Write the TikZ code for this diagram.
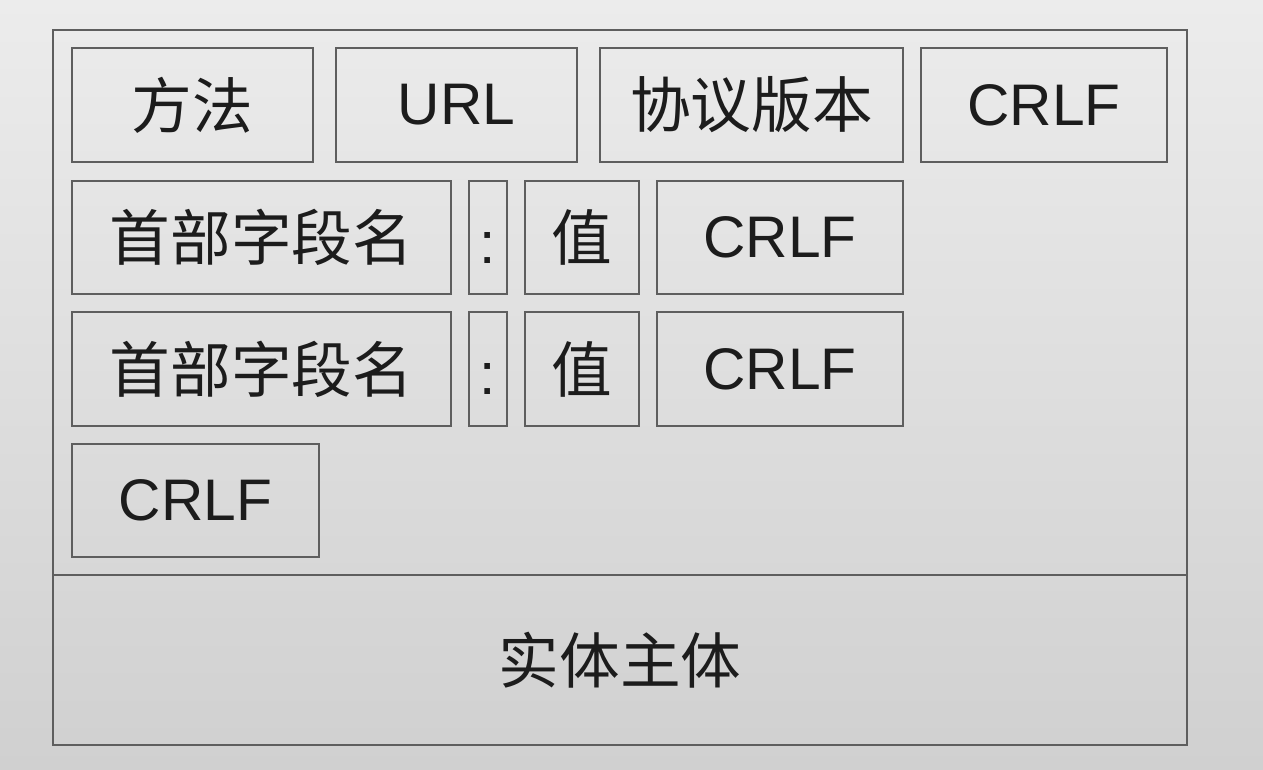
\documentclass[tikz,border=0pt]{standalone}
\usepackage{fontspec}
\setmainfont{Liberation Sans}
\newfontfamily\cjk{Noto Sans CJK SC}
\usetikzlibrary{fit}
\definecolor{linegray}{HTML}{5E5E5E}
\definecolor{bgtop}{HTML}{ECECEC}
\definecolor{bgbot}{HTML}{D0D0D0}
\definecolor{txt}{HTML}{1C1C1C}
\begin{document}
\begin{tikzpicture}[x=0.75pt,y=-0.75pt,
  cell/.style={draw=linegray, line width=2.1pt, inner sep=0pt, outer sep=0pt},
  lbl/.style={text=txt, font=\fontsize{44}{48}\selectfont, inner sep=0pt},
  cjklbl/.style={text=txt, font=\fontsize{45.5}{48}\selectfont\cjk, inner sep=0pt}]
\shade[top color=bgtop, bottom color=bgbot, use as bounding box] (0,0) rectangle (1263,769);
% outer message frame
\node[cell, fit={(53,30)(1187,575)}] (head) {};
\node[cell, fit={(53,575)(1187,745)}] (body) {};
\node[cjklbl] at (body.center) {实体主体};
% request line
\node[cell, fit={(72,48)(313,162)}] (method) {};
\node[cjklbl] at (method.center) {方法};
\node[cell, fit={(336,48)(577,162)}] (url) {};
\node[lbl] at (url.center) {URL};
\node[cell, fit={(600,48)(903,162)}] (ver) {};
\node[cjklbl] at (ver.center) {协议版本};
\node[cell, fit={(921,48)(1167,162)}] (crlf1) {};
\node[lbl] at (crlf1.center) {CRLF};
% header line 1
\node[cell, fit={(72,181)(451,294)}] (name1) {};
\node[cjklbl] at (name1.center) {首部字段名};
\node[cell, fit={(469,181)(507,294)}] (colon1) {};
\node[lbl, yshift=-7.5pt] at (colon1.center) {:};
\node[cell, fit={(525,181)(639,294)}] (val1) {};
\node[cjklbl] at (val1.center) {值};
\node[cell, fit={(657,181)(903,294)}] (crlf2) {};
\node[lbl] at (crlf2.center) {CRLF};
% header line 2
\node[cell, fit={(72,312)(451,426)}] (name2) {};
\node[cjklbl] at (name2.center) {首部字段名};
\node[cell, fit={(469,312)(507,426)}] (colon2) {};
\node[lbl, yshift=-7.5pt] at (colon2.center) {:};
\node[cell, fit={(525,312)(639,426)}] (val2) {};
\node[cjklbl] at (val2.center) {值};
\node[cell, fit={(657,312)(903,426)}] (crlf3) {};
\node[lbl] at (crlf3.center) {CRLF};
% empty line
\node[cell, fit={(72,444)(319,557)}] (crlf4) {};
\node[lbl] at (crlf4.center) {CRLF};
\end{tikzpicture}
\end{document}
